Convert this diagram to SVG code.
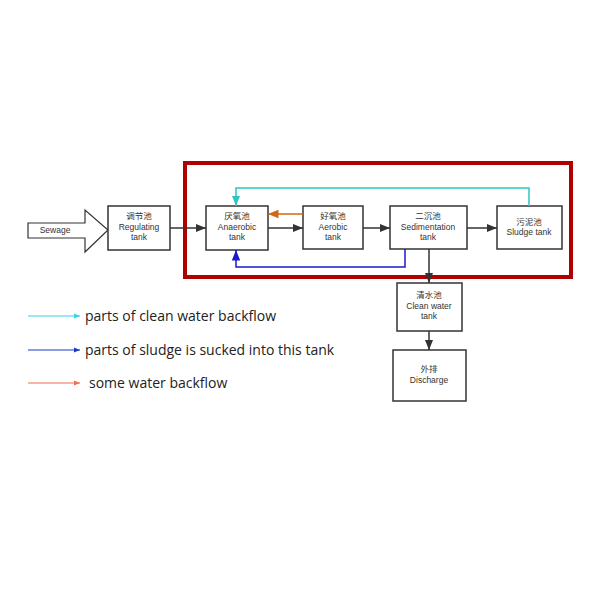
<svg xmlns="http://www.w3.org/2000/svg" width="600" height="600" viewBox="0 0 600 600">
<defs>
<style>
.box{fill:#fff;stroke:#333;stroke-width:1.5}
.t{font-family:"Liberation Sans","Noto Sans CJK SC",sans-serif;font-size:8.5px;fill:#333;text-anchor:middle}
.c{fill:none;stroke-width:1.5}
.lg{font-family:"Open Sans","Noto Sans",sans-serif;font-size:14px;fill:#222}
</style>
<marker id="ak" viewBox="0 0 10 10" refX="10" refY="5" markerWidth="7" markerHeight="7" orient="auto"><path d="M0,1L10,5L0,9z" fill="#333"/></marker>
<marker id="ac" viewBox="0 0 10 10" refX="10" refY="5" markerWidth="7" markerHeight="7" orient="auto"><path d="M0,1L10,5L0,9z" fill="#2cc5c5"/></marker>
<marker id="ab" viewBox="0 0 10 10" refX="10" refY="5" markerWidth="7" markerHeight="7" orient="auto"><path d="M0,1L10,5L0,9z" fill="#1a1acc"/></marker>
<marker id="ao" viewBox="0 0 10 10" refX="10" refY="5" markerWidth="7" markerHeight="7" orient="auto"><path d="M0,1L10,5L0,9z" fill="#d06a10"/></marker>
<marker id="lc" viewBox="0 0 10 10" refX="10" refY="5" markerWidth="5" markerHeight="5" orient="auto"><path d="M0,1L10,5L0,9z" fill="#33d6e6"/></marker>
<marker id="lb" viewBox="0 0 10 10" refX="10" refY="5" markerWidth="5" markerHeight="5" orient="auto"><path d="M0,1L10,5L0,9z" fill="#1a3acc"/></marker>
<marker id="lo" viewBox="0 0 10 10" refX="10" refY="5" markerWidth="5" markerHeight="5" orient="auto"><path d="M0,1L10,5L0,9z" fill="#f07050"/></marker>
</defs>
<rect x="185" y="163" width="386" height="114" fill="none" stroke="#b00000" stroke-width="4"/>
<g id="sewage"><path d="M28,223H85V210L108,230L85,252V238H28z" fill="#fff" stroke="#333" stroke-width="1.2"/><text class="t" x="55" y="233">Sewage</text></g>
<g id="regulating"><rect class="box" x="108" y="206" width="62" height="44"/><text class="t" x="139" y="219">调节池</text><text class="t" x="139" y="230">Regulating</text><text class="t" x="139" y="240">tank</text></g>
<g id="anaerobic"><rect class="box" x="206" y="206" width="62" height="44"/><text class="t" x="237" y="219">厌氧池</text><text class="t" x="237" y="230">Anaerobic</text><text class="t" x="237" y="240">tank</text></g>
<g id="aerobic"><rect class="box" x="303" y="206" width="60" height="43"/><text class="t" x="333" y="219">好氧池</text><text class="t" x="333" y="230">Aerobic</text><text class="t" x="333" y="240">tank</text></g>
<g id="sedimentation"><rect class="box" x="390" y="206" width="77" height="43"/><text class="t" x="428" y="219">二沉池</text><text class="t" x="428" y="230">Sedimentation</text><text class="t" x="428" y="240">tank</text></g>
<g id="sludge"><rect class="box" x="497" y="206" width="65" height="43"/><text class="t" x="529" y="225">污泥池</text><text class="t" x="529" y="235">Sludge  tank</text></g>
<g id="clean"><rect class="box" x="397" y="283" width="65" height="48"/><text class="t" x="429" y="298">清水池</text><text class="t" x="429" y="309">Clean  water</text><text class="t" x="429" y="319">tank</text></g>
<g id="discharge"><rect class="box" x="393" y="350" width="73" height="51"/><text class="t" x="429" y="372">外排</text><text class="t" x="429" y="383">Discharge</text></g>
<g id="connectors">
<path class="c" stroke="#333" d="M170,228H206" marker-end="url(#ak)"/>
<path class="c" stroke="#333" d="M268,228H303" marker-end="url(#ak)"/>
<path class="c" stroke="#333" d="M363,228H390" marker-end="url(#ak)"/>
<path class="c" stroke="#333" d="M467,228H497" marker-end="url(#ak)"/>
<path class="c" stroke="#333" d="M429,249V283" marker-end="url(#ak)"/>
<path class="c" stroke="#333" d="M429,331V350" marker-end="url(#ak)"/>
<path class="c" stroke="#2cc5c5" d="M529,206V188H236V206" marker-end="url(#ac)"/>
<path class="c" stroke="#1a1acc" d="M405,249V267H236V250" marker-end="url(#ab)"/>
<path class="c" stroke="#d06a10" d="M303,214H268" marker-end="url(#ao)"/>
</g>
<g id="legend">
<path d="M28,316H80" stroke="#33d6e6" stroke-width="1.2" marker-end="url(#lc)"/>
<text class="lg" x="85" y="321">parts of clean water backflow</text>
<path d="M28,350H80" stroke="#1a3acc" stroke-width="1.2" marker-end="url(#lb)"/>
<text class="lg" x="85" y="355">parts of sludge is sucked into this tank</text>
<path d="M28,383H80" stroke="#f07050" stroke-width="1.2" marker-end="url(#lo)"/>
<text class="lg" x="89" y="388">some water backflow</text>
</g>
</svg>
